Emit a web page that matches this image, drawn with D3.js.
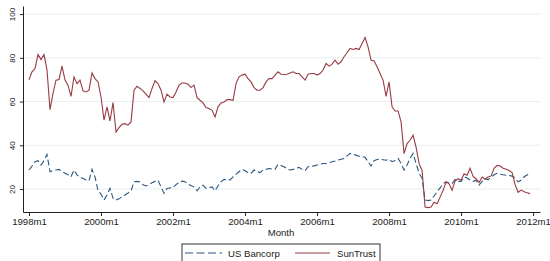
<!DOCTYPE html>
<html lang="en">
<head>
  <meta charset="utf-8">
  <title>US Bancorp vs SunTrust</title>
  <style>
    body { margin: 0; background: #fff; }
    svg { font-family: "Liberation Sans", Arial, sans-serif; }
    .tick text { fill: #222; }
  </style>
</head>
<body>
  <div id="chart"></div>
  <script src="https://d3js.org/d3.v7.min.js"></script>
  <script>
// monthly values, 1998m1 .. 2011m12
const usBancorp = [
  28.7, 30.5, 32.5, 33.0, 31.0, 33.0, 35.8, 27.9, 28.5, 28.7, 29.0, 28.0,
  27.2, 26.5, 25.6, 28.7, 26.5, 25.2, 24.9, 24.1, 23.8, 29.0, 25.5, 19.2,
  17.7, 15.0, 17.3, 20.3, 15.8, 15.0, 15.5, 16.5, 17.3, 18.2, 19.2, 23.3,
  23.5, 23.2, 22.0, 21.4, 22.0, 22.9, 23.5, 24.0, 21.0, 18.0, 20.3, 20.5,
  20.6, 22.0, 23.0, 23.6, 23.3, 22.3, 21.5, 21.0, 19.2, 21.0, 21.8, 20.3,
  20.7, 21.0, 19.2, 21.5, 23.3, 24.4, 24.2, 24.2, 25.6, 26.8, 27.9, 29.0,
  28.4, 27.5, 27.2, 28.7, 28.0, 27.5, 28.7, 29.0, 29.4, 29.2, 29.0, 31.3,
  30.8, 30.2, 29.2, 28.7, 29.0, 29.5, 29.9, 29.0, 28.4, 30.2, 30.4, 30.6,
  31.0, 31.3, 31.7, 31.7, 32.0, 32.5, 32.8, 33.2, 33.6, 34.0, 35.2, 36.3,
  35.8, 35.5, 35.0, 34.8, 34.5, 32.5, 30.5, 33.0, 33.5, 33.6, 33.4, 33.2,
  33.6, 32.5, 33.0, 34.0, 31.7, 28.7, 31.0, 34.0, 36.3, 31.7, 27.2, 24.9,
  15.0, 14.7, 15.0, 16.8, 18.8, 20.5, 22.5, 23.3, 22.8, 22.5, 24.4, 23.5,
  23.5, 25.6, 25.0, 24.1, 23.5, 24.0, 21.8, 23.5, 24.8, 24.2, 25.5, 26.5,
  27.2, 26.8, 26.5, 26.3, 26.2, 25.9, 25.0, 23.3, 24.0, 25.6, 26.4, 27.2
];
const sunTrust = [
  70.0, 73.6, 75.1, 81.5, 79.2, 81.5, 74.4, 56.3, 63.7, 69.8, 70.1, 76.2,
  69.8, 67.5, 62.4, 71.3, 68.2, 69.8, 64.9, 64.4, 65.2, 73.1, 70.5, 69.0,
  62.1, 51.5, 57.6, 51.1, 59.5, 46.1, 48.1, 49.6, 49.9, 49.2, 50.7, 65.2,
  67.0, 66.0, 64.9, 63.4, 61.8, 66.0, 69.5, 68.2, 65.2, 59.8, 63.4, 62.1,
  61.8, 64.4, 67.5, 68.5, 68.5, 67.9, 66.4, 67.5, 61.8, 60.6, 59.4, 57.3,
  56.8, 56.0, 53.0, 57.6, 59.4, 59.8, 60.9, 60.9, 60.6, 68.2, 71.3, 72.1,
  72.5, 70.5, 69.0, 66.4, 65.2, 65.2, 66.4, 69.0, 70.5, 70.5, 72.1, 73.6,
  72.5, 72.4, 72.5, 73.1, 73.6, 72.8, 72.8, 71.3, 69.8, 72.5, 72.8, 72.8,
  72.1, 72.8, 74.4, 77.4, 76.2, 77.1, 78.9, 77.1, 78.2, 80.5, 82.3, 84.3,
  83.8, 84.3, 83.8, 86.6, 89.3, 85.0, 78.9, 78.6, 75.9, 72.8, 69.8, 62.4,
  69.0, 57.6, 55.7, 55.7, 50.7, 36.2, 40.8, 42.3, 44.6, 39.2, 31.6, 28.5,
  11.8, 11.5, 11.8, 14.0, 13.3, 16.3, 19.4, 23.2, 22.4, 19.4, 23.7, 24.7,
  24.0, 27.0, 26.3, 29.5, 25.8, 24.7, 23.0, 25.5, 24.5, 25.5, 26.0, 29.5,
  30.8, 30.5, 29.5, 29.0, 28.5, 27.5, 22.0, 18.5, 19.5, 18.8, 18.3, 17.9
];
const xTickValues = [0, 24, 48, 72, 96, 120, 144, 168];
const xTickLabels = ["1998m1", "2000m1", "2002m1", "2004m1", "2006m1", "2008m1", "2010m1", "2012m1"];
const yTickValues = [20, 40, 60, 80, 100];
const seriesNames = ["US Bancorp", "SunTrust"];
const seriesColors = ["#2c5780", "#973b42"];

const width = 550, height = 261;
const svg = d3.select("#chart").append("svg")
    .attr("width", width)
    .attr("height", height);

const x = d3.scaleLinear().domain([-2, 170.3]).range([23, 540]);
const y = d3.scaleLinear().domain([9.5, 103.7]).range([212, 6]);

// grid lines
svg.append("g")
    .selectAll("line")
    .data(yTickValues)
    .enter()
    .append("line")
    .attr("x1", x(-2)).attr("x2", x(170.3))
    .attr("y1", d => y(d)).attr("y2", d => y(d))
    .style("stroke", "#e6eef0")
    .style("stroke-width", 1);

// axes
const yAxis = svg.append("g")
    .attr("transform", `translate(${x(-2)},0)`)
    .call(d3.axisLeft(y).tickValues(yTickValues).tickSize(3).tickSizeOuter(0));
yAxis.selectAll("text")
    .attr("transform", "rotate(-90)")
    .attr("x", 0).attr("y", -8.5).attr("dy", 0)
    .attr("text-anchor", "middle")
    .style("font-size", "8px");

const xAxis = svg.append("g")
    .attr("transform", `translate(0,${y(9.5)})`)
    .call(d3.axisBottom(x).tickValues(xTickValues)
        .tickFormat((d, i) => xTickLabels[i]).tickSize(4).tickSizeOuter(0));
xAxis.selectAll("text")
    .attr("y", 6.5)
    .style("font-size", "9.6px");

svg.selectAll(".domain, .tick line").style("stroke", "#222");

svg.append("text")
    .attr("x", 281).attr("y", 236)
    .attr("text-anchor", "middle")
    .style("font-size", "9.6px")
    .style("fill", "#222")
    .text("Month");

// lines
const line = d3.line()
    .x((d, i) => x(i))
    .y(d => y(d));

svg.append("path")
    .datum(usBancorp)
    .attr("d", line)
    .style("fill", "none")
    .style("stroke", seriesColors[0])
    .style("stroke-width", 1.1)
    .style("stroke-dasharray", "6,3");

svg.append("path")
    .datum(sunTrust)
    .attr("d", line)
    .style("fill", "none")
    .style("stroke", seriesColors[1])
    .style("stroke-width", 1.1);

// legend
const legend = svg.append("g");
legend.append("rect")
    .attr("x", 182).attr("y", 244)
    .attr("width", 198).attr("height", 24)
    .style("fill", "#fff")
    .style("stroke", "#333")
    .style("stroke-width", 1);

const legendItems = [
  { x1: 185, x2: 222, tx: 228, dash: "8,3.5" },
  { x1: 295, x2: 330, tx: 337, dash: null }
];
legendItems.forEach((it, i) => {
  legend.append("line")
      .attr("x1", it.x1).attr("x2", it.x2)
      .attr("y1", 253).attr("y2", 253)
      .style("stroke", seriesColors[i])
      .style("stroke-width", 1.1)
      .style("stroke-dasharray", it.dash);
  legend.append("text")
      .attr("x", it.tx).attr("y", 256.5)
      .style("font-size", "9.6px")
      .style("fill", "#222")
      .text(seriesNames[i]);
});
  </script>
</body>
</html>
